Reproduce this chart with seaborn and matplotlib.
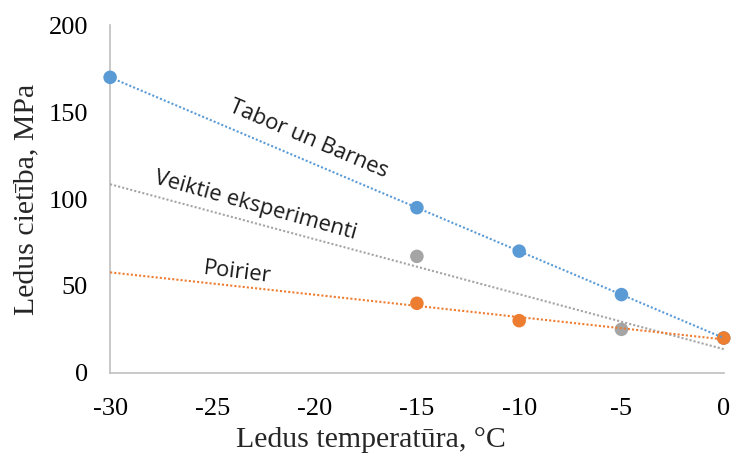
import matplotlib
matplotlib.use("Agg")
import matplotlib.pyplot as plt
import seaborn as sns

# Measured ice hardness by temperature
tabor_x = [-30, -15, -10, -5, 0]
tabor_y = [170, 95, 70, 45, 20]
veiktie_x = [-15, -5]
veiktie_y = [67, 25]
poirier_x = [-15, -10, 0]
poirier_y = [40, 30, 20]

# Linear trend values at the ends of the temperature range
trend_x = [-30, 0]
tabor_trend = [170, 20]
veiktie_trend = [108.5, 13.6]
poirier_trend = [57.8, 19.2]

x_ticks = [-30, -25, -20, -15, -10, -5, 0]
y_ticks = [0, 50, 100, 150, 200]

BLUE = "#5B9BD5"
ORANGE = "#ED7D31"
GRAY = "#A5A5A5"
AXIS = "#BFBFBF"

sns.set_theme(style="white")
plt.rcParams["font.family"] = ["Liberation Serif", "DejaVu Serif"]

fig = plt.figure(figsize=(7.34, 4.58), dpi=100)
ax = fig.add_axes([0.150, 0.186, 0.836, 0.759])
ax.set_xlim(-30, 0)
ax.set_ylim(0, 200)

series = [
    (tabor_x, tabor_y, tabor_trend, BLUE),
    (veiktie_x, veiktie_y, veiktie_trend, GRAY),
    (poirier_x, poirier_y, poirier_trend, ORANGE),
]

for xs, ys, _, color in series:
    sns.scatterplot(x=xs, y=ys, ax=ax, color=color, s=95, edgecolor="none",
                    zorder=3, clip_on=False)

for _, _, trend, color in series:
    sns.lineplot(x=trend_x, y=trend, ax=ax, color=color, linewidth=1.5,
                 linestyle=(0, (1, 1)), zorder=4, clip_on=False)

label_font = ["Open Sans", "DejaVu Sans"]
ax.text(-20.3, 134.5, "Tabor un Barnes", rotation=-23, ha="center", va="center",
        fontsize=15.8, family=label_font, color="#1a1a1a")
ax.text(-22.9, 96, "Veiktie eksperimenti", rotation=-15.5, ha="center", va="center",
        fontsize=15.8, family=label_font, color="#1a1a1a")
ax.text(-23.8, 57.5, "Poirier", rotation=-7, ha="center", va="center",
        fontsize=15.8, family=label_font, color="#1a1a1a")

ax.set_xticks(x_ticks)
ax.set_xticklabels([str(v) for v in x_ticks])
ax.set_yticks(y_ticks)
ax.set_yticklabels([str(v) for v in y_ticks])
ax.tick_params(axis="both", direction="in", length=6, width=1, color=AXIS,
               labelsize=19, labelcolor="black")
ax.tick_params(axis="x", pad=18)
ax.tick_params(axis="y", pad=16)

for side in ["top", "right"]:
    ax.spines[side].set_visible(False)
for side in ["left", "bottom"]:
    ax.spines[side].set_color(AXIS)
    ax.spines[side].set_linewidth(1.2)

ax.set_xlabel("Ledus temperatūra, °C", fontsize=21.5, labelpad=5)
ax.set_ylabel("Ledus cietība, MPa", fontsize=21.5, labelpad=6.5)
# x title is centred on the whole figure rather than on the plot area
ax.xaxis.label.set_x(0.425)

fig.savefig("out.png", dpi=100)
